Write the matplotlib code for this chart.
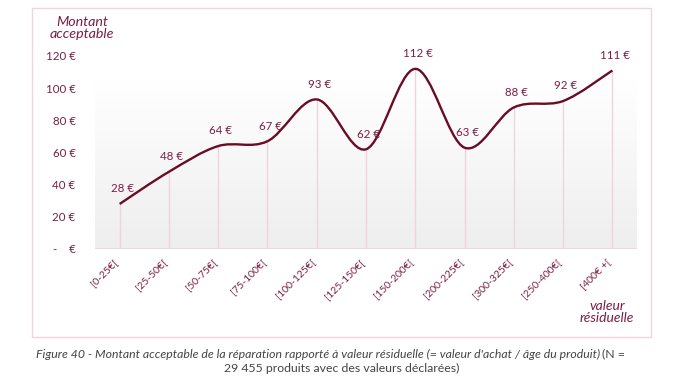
import numpy as np
import matplotlib.pyplot as plt
from matplotlib.path import Path
from matplotlib.patches import PathPatch, Rectangle
from matplotlib.colors import LinearSegmentedColormap

plt.rcParams['font.family'] = ['Lato', 'DejaVu Sans']

categories = ['[0-25€[', '[25-50€[', '[50-75€[', '[75-100€[', '[100-125€[',
              '[125-150€[', '[150-200€[', '[200-225€[', '[300-325€[',
              '[250-400€[', '[400€ +[']
values = [28, 48, 64, 67, 93, 62, 112, 63, 88, 92, 111]
yticks = [0, 20, 40, 60, 80, 100, 120]
ytick_labels = ['-    €', '20 €', '40 €', '60 €', '80 €', '100 €', '120 €']

maroon = '#6a0d24'
text_col = '#7a1e45'
pink = '#f0d3db'

fig = plt.figure(figsize=(6.8, 3.9), dpi=100)
ax = fig.add_axes([95 / 680, 1 - 249 / 390, (637 - 95) / 680, (249 - 56) / 390])

x = np.arange(len(values))
y = np.array(values, dtype=float)

# gradient background of the plot area
grad = np.linspace(0, 1, 256).reshape(-1, 1)
ax.imshow(grad, extent=(-0.5, len(values) - 0.5, 0, 105), origin='lower',
          cmap=LinearSegmentedColormap.from_list('g', ['#eeeeee', '#ffffff']),
          aspect='auto', zorder=0)

# drop lines
ax.vlines(x, 0, y, color=pink, lw=1, zorder=1)
ax.axhline(0, color=pink, lw=2, zorder=1)

# smoothed line (Excel style bezier)
verts = [(x[0], y[0])]
codes = [Path.MOVETO]
n = len(x)
for i in range(n - 1):
    p0 = np.array([x[max(i - 1, 0)], y[max(i - 1, 0)]])
    p1 = np.array([x[i], y[i]])
    p2 = np.array([x[i + 1], y[i + 1]])
    p3 = np.array([x[min(i + 2, n - 1)], y[min(i + 2, n - 1)]])
    c1 = p1 + (p2 - p0) / 6
    c2 = p2 - (p3 - p1) / 6
    verts += [tuple(c1), tuple(c2), tuple(p2)]
    codes += [Path.CURVE4] * 3
ax.add_patch(PathPatch(Path(verts, codes), fill=False, edgecolor=maroon,
                       lw=1.7, zorder=3))

for xi, yi in zip(x, y):
    ax.annotate(f'{int(yi)} €', (xi, yi), xytext=(2, 7), textcoords='offset points',
                ha='center', va='bottom', fontsize=8.3, color=text_col, zorder=4)

ax.set_xlim(-0.5, len(values) - 0.5)
ax.set_ylim(0, 120)
ax.set_yticks(yticks)
ax.set_yticklabels(ytick_labels)
ax.set_xticks(x)
ax.set_xticklabels(categories, rotation=45, ha='right', va='top')
ax.tick_params(axis='both', length=0, colors=text_col)
ax.tick_params(axis='x', labelsize=7.5, pad=6)
ax.tick_params(axis='y', labelsize=8.3, pad=14)
for s in ax.spines.values():
    s.set_visible(False)

fig.text(82 / 680, 1 - 28 / 390, 'Montant\nacceptable', ha='center', va='center',
         fontsize=10.3, style='italic', color=text_col, linespacing=1.0)
fig.text(607 / 680, 1 - 312 / 390, 'valeur\nrésiduelle', ha='center', va='center',
         fontsize=10, style='italic', color=text_col, linespacing=1.0)

# outer frame
fig.patches.append(Rectangle((32 / 680, 1 - 337 / 390), (651 - 32) / 680, (337 - 8) / 390,
                             transform=fig.transFigure, fill=False,
                             edgecolor='#f3d3dc', lw=1))

t1 = fig.text(36 / 680, 1 - 354 / 390,
              "Figure 40 - Montant acceptable de la réparation rapporté à valeur résiduelle "
              "(= valeur d'achat / âge du produit)",
              ha='left', va='center', fontsize=8.8, style='italic', color='#444444')
ax.annotate('(N =', xy=(1, 0), xycoords=t1, xytext=(1, 0), textcoords='offset points',
            ha='left', va='bottom', fontsize=8.8, color='#444444', annotation_clip=False)
fig.text(342 / 680, 1 - 368 / 390, '29 455 produits avec des valeurs déclarées)',
         ha='center', va='center', fontsize=8.8, color='#444444')

fig.savefig('out.png', dpi=100)
